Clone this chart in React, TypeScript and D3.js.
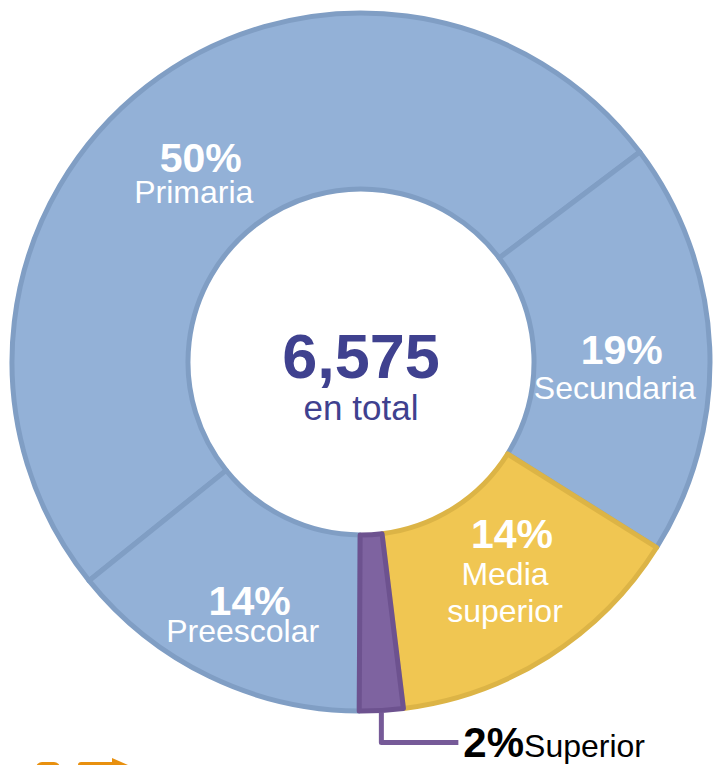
import React, { useEffect, useRef } from "react";
import * as d3 from "d3";

const categories = ["Primaria", "Secundaria", "Media superior", "Superior", "Preescolar"];
const shares = [50, 19, 14, 2, 14];
const labelLines = [["Primaria"], ["Secundaria"], ["Media", "superior"], ["Superior"], ["Preescolar"]];
const total = "6,575";
const totalCaption = "en total";

const fills: Record<string, string> = {
  Primaria: "#93b1d7",
  Secundaria: "#93b1d7",
  "Media superior": "#f0c652",
  Superior: "#7e63a0",
  Preescolar: "#93b1d7",
};
const strokes: Record<string, string> = {
  Primaria: "#809ec4",
  Secundaria: "#809ec4",
  "Media superior": "#dcb446",
  Superior: "#6d528f",
  Preescolar: "#809ec4",
};

// nudges of each label block from the arc centroid
const nudge: Record<string, [number, number]> = {
  Primaria: [-7, 16],
  Secundaria: [-7, 13],
  "Media superior": [4, -34],
  Preescolar: [-5, 18],
};

export default function App() {
  const ref = useRef<SVGSVGElement>(null);

  useEffect(() => {
    const width = 713;
    const height = 765;
    const cx = 361;
    const cy = 362;
    const outer = 349;
    const inner = 173;
    const start = (231.2 * Math.PI) / 180;

    const svg = d3.select(ref.current).attr("width", width).attr("height", height);
    svg.selectAll("*").remove();

    const data = categories.map((c, i) => ({ name: c, value: shares[i], lines: labelLines[i] }));
    const pie = d3
      .pie<any>()
      .sort(null)
      .value((d) => d.value)
      .startAngle(start)
      .endAngle(start + 2 * Math.PI);
    const arcs = pie(data);
    const arc = d3.arc<any>().innerRadius(inner).outerRadius(outer);
    const mid = d3.arc<any>().innerRadius((inner + outer) / 2).outerRadius((inner + outer) / 2);

    const g = svg.append("g").attr("transform", `translate(${cx},${cy})`);
    const drawOrder = ["Primaria", "Secundaria", "Preescolar", "Media superior", "Superior"];
    drawOrder.forEach((name) => {
      const a = arcs.find((d) => d.data.name === name)!;
      g.append("path")
        .attr("d", arc(a) as string)
        .attr("fill", fills[name])
        .attr("stroke", strokes[name])
        .attr("stroke-width", 5)
        .attr("stroke-linejoin", "round");
    });

    const font = "Liberation Sans, Arial, sans-serif";

    arcs.forEach((a) => {
      const name = a.data.name;
      if (name === "Superior") return;
      const [x, y] = mid.centroid(a);
      const [dx, dy] = nudge[name];
      const t = g
        .append("text")
        .attr("text-anchor", "middle")
        .attr("fill", "#ffffff")
        .attr("font-family", font);
      t.append("tspan")
        .attr("x", x + dx + 7)
        .attr("y", y + dy)
        .attr("font-weight", "bold")
        .attr("font-size", 41)
        .text(`${a.data.value}%`);
      a.data.lines.forEach((line: string, i: number) => {
        t.append("tspan")
          .attr("x", x + dx)
          .attr("y", y + dy + (i + 1) * (name === "Media superior" ? 37 : 31) + (name === "Secundaria" ? 4 : 0) - (name === "Preescolar" ? 4 : 0))
          .attr("font-size", 32)
          .text(line);
      });
    });

    // center total
    g.append("text")
      .attr("text-anchor", "middle")
      .attr("y", 16)
      .attr("fill", "#3f418f")
      .attr("font-family", font)
      .attr("font-weight", "bold")
      .attr("font-size", 63)
      .text(total);
    g.append("text")
      .attr("text-anchor", "middle")
      .attr("y", 58)
      .attr("fill", "#3f418f")
      .attr("font-family", font)
      .attr("font-size", 35)
      .text(totalCaption);

    // Superior callout
    const sup = arcs.find((d) => d.data.name === "Superior")!;
    const ang = (sup.startAngle + sup.endAngle) / 2;
    const bx = Math.sin(ang) * outer;
    const by = -Math.cos(ang) * outer;
    g.append("path")
      .attr("d", `M${bx},${by + 2}V${by + 32}H${bx + 77}`)
      .attr("fill", "none")
      .attr("stroke", "#765a98")
      .attr("stroke-width", 5)
      .attr("stroke-linejoin", "round");
    const st = g
      .append("text")
      .attr("x", bx + 82)
      .attr("y", by + 47)
      .attr("font-family", font)
      .attr("fill", "#000000");
    st.append("tspan").attr("font-weight", "bold").attr("font-size", 42).text(`${sup.data.value}%`);
    st.append("tspan").attr("font-size", 32).text(sup.data.name);

    // cut-off orange logo at the bottom edge
    const logo = svg.append("g").attr("fill", "#e8900f");
    logo.append("rect").attr("x", 36).attr("y", 762).attr("width", 24).attr("height", 12).attr("rx", 6);
    logo.append("rect").attr("x", 78).attr("y", 762).attr("width", 42).attr("height", 12).attr("rx", 3);
    logo.append("path").attr("d", "M112,758L128,765L112,772Z");
  }, []);

  return <svg ref={ref} style={{ position: "absolute", left: 0, top: 0 }} />;
}
